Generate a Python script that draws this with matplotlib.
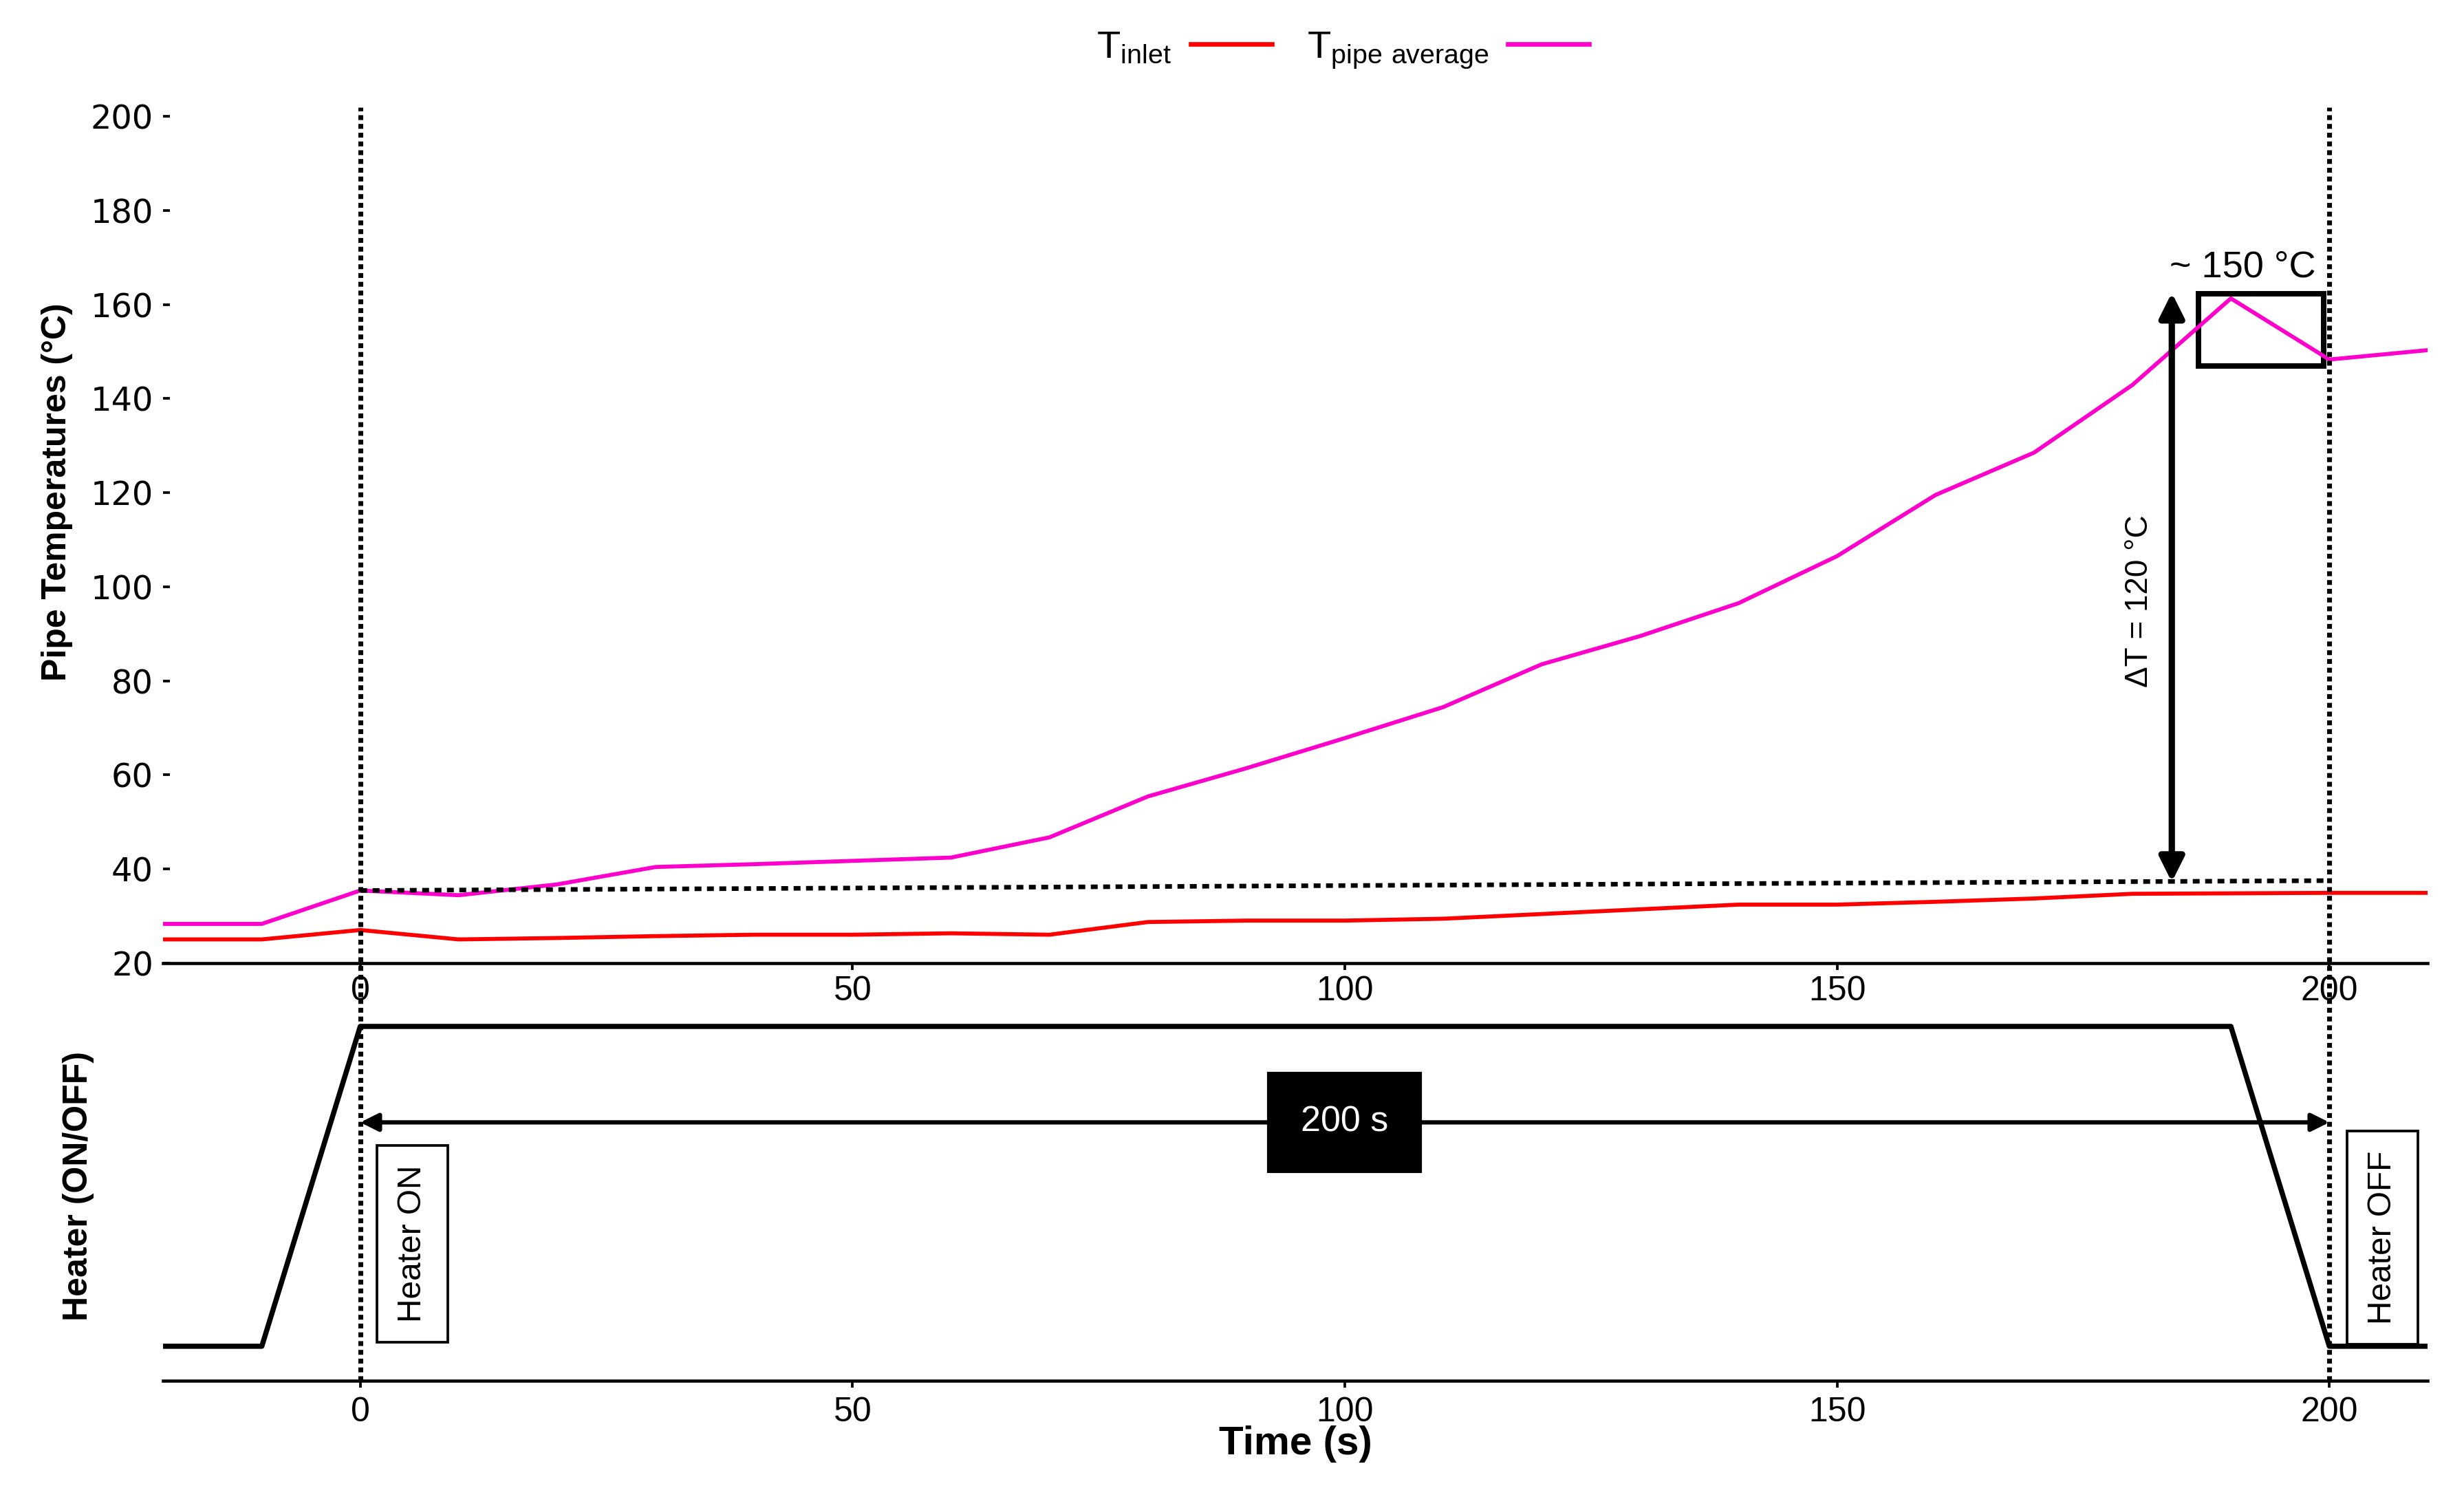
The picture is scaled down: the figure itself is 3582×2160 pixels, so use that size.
"""
Pipe temperatures vs heater state (two stacked panels)
"""

import matplotlib
matplotlib.use("Agg")
import matplotlib.pyplot as plt
from matplotlib.lines import Line2D
from matplotlib.patches import Rectangle

# ── Data ────────────────────────────────────────
time_s = [-20, -10, 0, 10, 20, 30, 40, 50, 60, 70, 80, 90, 100, 110,
          120, 130, 140, 150, 160, 170, 180, 190, 200, 210]
t_inlet = [25.0, 25.0, 27.0, 25.0, 25.3, 25.7, 26.0, 26.0, 26.3, 26.0, 28.7, 29.0,
           29.0, 29.4, 30.4, 31.4, 32.4, 32.4, 33.0, 33.7, 34.7, 34.8, 34.9, 34.9]
t_pipe_avg = [28.3, 28.3, 35.4, 34.4, 36.7, 40.4, 41.0, 41.7, 42.4, 46.7, 55.4, 61.4,
              67.8, 74.4, 83.5, 89.5, 96.5, 106.5, 119.5, 128.5, 142.9, 161.3, 148.3, 150.3]

heater_time = [-20, -10, 0, 190, 200, 210]
heater_state = [0, 0, 1, 1, 0, 0]

baseline_start = (0, 35.4)
baseline_end = (200, 37.5)
peak_box = (186.7, 147.0, 12.7, 15.3)   # x, y, width, height
delta_arrow_x = 184
# ────────────────────────────────────────────────

RED = "#ff0000"
MAGENTA = "#ff00cc"
ARIAL = ["Liberation Sans", "DejaVu Sans"]

plt.rcParams["font.family"] = ARIAL

fig = plt.figure(figsize=(11.94, 7.2), dpi=300)
ax1 = fig.add_axes([0.0663, 0.352, 0.919, 0.576])
ax2 = fig.add_axes([0.0663, 0.0708, 0.919, 0.260])
ax2.patch.set_visible(False)

# ── Top panel: temperatures ──
ax1.plot(time_s, t_inlet, color=RED, linewidth=1.4)
ax1.plot(time_s, t_pipe_avg, color=MAGENTA, linewidth=1.4)
ax1.set_xlim(-20, 210)
ax1.set_ylim(20, 202)
ax1.set_yticks(range(20, 201, 20))
ax1.set_xticks([0, 50, 100, 150, 200])
for lab in ax1.get_yticklabels():
    lab.set_family(["DejaVu Sans"])
ax1.tick_params(axis="y", direction="in", length=2.5, width=0.9, labelsize=11.5, pad=3.5)
ax1.tick_params(axis="x", length=2.5, width=0.9, labelsize=12, pad=2)
for side in ["left", "top", "right"]:
    ax1.spines[side].set_visible(False)
ax1.spines["bottom"].set_linewidth(1.1)
ax1.set_ylabel("Pipe Temperatures (°C)", fontsize=12, fontweight="bold")
ax1.yaxis.set_label_coords(-0.040, 0.55)

for xv in [0, 200]:
    ax1.axvline(xv, ymin=-0.04, ymax=1.0, color="black", linestyle=(0, (1, 0.8)),
                linewidth=1.7, clip_on=False)

# baseline (dotted) between start and end of heating
ax1.plot([baseline_start[0], baseline_end[0]], [baseline_start[1], baseline_end[1]],
         color="black", linestyle=(0, (1.5, 1.2)), linewidth=1.6)

# delta T arrow
ax1.annotate("", xy=(delta_arrow_x, 162.5), xytext=(delta_arrow_x, 37.2),
             arrowprops=dict(arrowstyle="<|-|>", color="black", lw=2.2,
                             mutation_scale=18, shrinkA=0, shrinkB=0))
ax1.text(delta_arrow_x - 3.3, 97, "ΔT = 120 °C", rotation=90, ha="center", va="center",
         fontsize=11)

ax1.add_patch(Rectangle(peak_box[:2], peak_box[2], peak_box[3], fill=False,
                        edgecolor="black", linewidth=1.9))
ax1.text(191.2, 164.3, "~ 150 °C", ha="center", va="bottom", fontsize=13)

# legend (label first, then line)
handles = [Line2D([], [], color=RED, linewidth=1.6),
           Line2D([], [], color=MAGENTA, linewidth=1.6)]
labels = [r"$\mathregular{T_{inlet}}$", r"$\mathregular{T_{pipe\ average}}$"]
fig.legend(handles, labels, loc="center", bbox_to_anchor=(0.545, 0.966), ncol=2,
           frameon=False, markerfirst=False, fontsize=13.5, handlelength=2.1,
           columnspacing=0.9, handletextpad=0.5)

# ── Bottom panel: heater state ──
ax2.plot(heater_time, heater_state, color="black", linewidth=1.8)
ax2.set_xlim(-20, 210)
ax2.set_ylim(-0.108, 1.1)
ax2.set_yticks([])
ax2.set_xticks([0, 50, 100, 150, 200])
ax2.tick_params(axis="x", length=2.5, width=0.9, labelsize=12, pad=3)
for side in ["left", "top", "right"]:
    ax2.spines[side].set_visible(False)
ax2.spines["bottom"].set_linewidth(1.1)
ax2.set_xlabel("Time (s)", fontsize=14, fontweight="bold", labelpad=-1)
ax2.set_ylabel("Heater (ON/OFF)", fontsize=12, fontweight="bold")
ax2.yaxis.set_label_coords(-0.0305, 0.504)

for xv in [0, 200]:
    ax2.axvline(xv, color="black", linestyle=(0, (1, 0.8)), linewidth=1.7)

ax2.annotate("", xy=(0, 0.70), xytext=(200, 0.70),
             arrowprops=dict(arrowstyle="<|-|>", color="black", lw=1.5,
                             mutation_scale=13, shrinkA=0, shrinkB=0))
ax2.text(100, 0.70, "200 s", ha="center", va="center", color="white", fontsize=12.5,
         bbox=dict(boxstyle="square,pad=0.9", facecolor="black", edgecolor="black"))

ax2.text(5.3, 0.32, "Heater ON", rotation=90, ha="center", va="center", fontsize=11.5,
         bbox=dict(boxstyle="square,pad=0.6", facecolor="white", edgecolor="black", lw=0.9))
ax2.text(205.4, 0.34, "Heater OFF", rotation=90, ha="center", va="center", fontsize=11.5,
         bbox=dict(boxstyle="square,pad=0.6", facecolor="white", edgecolor="black", lw=0.9))

fig.savefig("out.png", dpi=300)
plt.close(fig)
